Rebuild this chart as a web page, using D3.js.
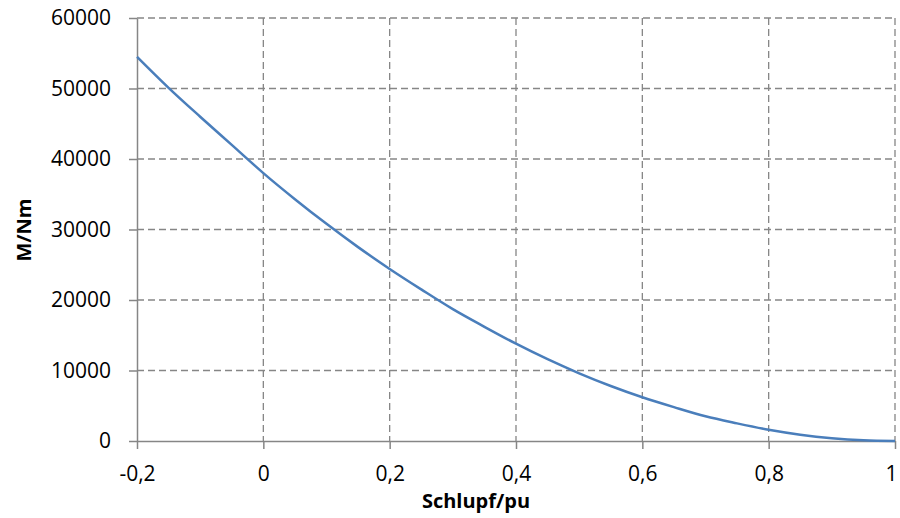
<!DOCTYPE html>
<html>
<head>
<meta charset="utf-8">
<script src="https://cdn.jsdelivr.net/npm/d3@7"></script>
<style>
  body { margin: 0; background: #fff; }
  text { font-family: 'Open Sans', sans-serif; }
</style>
</head>
<body>
<div id="chart"></div>
<script>
// slip values (pu) and torque (Nm)
const slip = [-0.2, -0.15, -0.1, -0.05, 0, 0.05, 0.1, 0.15, 0.2, 0.25, 0.3, 0.35, 0.4,
  0.45, 0.5, 0.55, 0.6, 0.65, 0.7, 0.75, 0.8, 0.85, 0.9, 0.95, 1]
const torque = [54500, 50100, 46000, 42000, 38000, 34300, 30800, 27500, 24400, 21500,
  18700, 16200, 13800, 11600, 9600, 7800, 6200, 4800, 3500, 2500, 1600, 900, 400, 100, 0]
const xTicks = [-0.2, 0, 0.2, 0.4, 0.6, 0.8, 1]
const yTicks = [0, 10000, 20000, 30000, 40000, 50000, 60000]

const margin = { top: 18, left: 137, right: 5, bottom: 77 }
const width = 900 - margin.left - margin.right
const height = 518 - margin.top - margin.bottom

const svg = d3
  .select('#chart')
  .append('svg')
  .attr('width', 900)
  .attr('height', 518)

const g = svg
  .append('g')
  .attr('transform', 'translate(' + margin.left + ',' + margin.top + ')')

const x = d3.scaleLinear().domain([-0.2, 1]).range([0, width])
const y = d3.scaleLinear().domain([0, 60000]).range([height, 0])

const fmt = d => String(d).replace('.', ',')

// grid
g.selectAll('.hgrid')
  .data(yTicks.filter(d => d > 0))
  .enter()
  .append('line')
  .attr('x1', 0)
  .attr('x2', width)
  .attr('y1', d => y(d))
  .attr('y2', d => y(d))
  .attr('stroke', '#868686')
  .attr('stroke-width', 1.3)
  .attr('stroke-dasharray', '7,4')

g.selectAll('.vgrid')
  .data(xTicks.filter(d => d > -0.2))
  .enter()
  .append('line')
  .attr('x1', d => x(d))
  .attr('x2', d => x(d))
  .attr('y1', 0)
  .attr('y2', height)
  .attr('stroke', '#868686')
  .attr('stroke-width', 1.3)
  .attr('stroke-dasharray', '7,4')

// axes
const xAxis = g
  .append('g')
  .attr('transform', 'translate(0,' + height + ')')
  .call(d3.axisBottom(x).tickValues(xTicks).tickFormat(fmt).tickSize(8).tickSizeOuter(0).tickPadding(17))

const yAxis = g
  .append('g')
  .call(d3.axisLeft(y).tickValues(yTicks).tickFormat(d => String(d)).tickSize(8).tickSizeOuter(0).tickPadding(18))

;[xAxis, yAxis].forEach(a => {
  a.select('.domain').attr('stroke', '#868686').attr('stroke-width', 1.5)
  a.selectAll('.tick line').attr('stroke', '#868686').attr('stroke-width', 1.5)
  a.selectAll('.tick text')
    .attr('font-family', 'Open Sans, sans-serif')
    .attr('font-size', 21)
    .attr('fill', '#000')
})

// keep the last label inside the window
xAxis.selectAll('.tick text').filter(d => d === 1).attr('dx', -4)

// curve
const line = d3
  .line()
  .x((d, i) => x(slip[i]))
  .y(d => y(d))
  .curve(d3.curveMonotoneX)

g.append('path')
  .datum(torque)
  .attr('d', line)
  .attr('fill', 'none')
  .attr('stroke', '#4a7ebb')
  .attr('stroke-width', 2.5)

// axis titles
svg.append('text')
  .text('Schlupf/pu')
  .attr('x', 476)
  .attr('y', 508)
  .attr('font-size', 20)
  .attr('font-weight', 'bold')
  .attr('text-anchor', 'middle')

svg.append('text')
  .text('M/Nm')
  .attr('transform', 'translate(31,230) rotate(-90)')
  .attr('font-size', 20)
  .attr('font-weight', 'bold')
  .attr('text-anchor', 'middle')
</script>
</body>
</html>
